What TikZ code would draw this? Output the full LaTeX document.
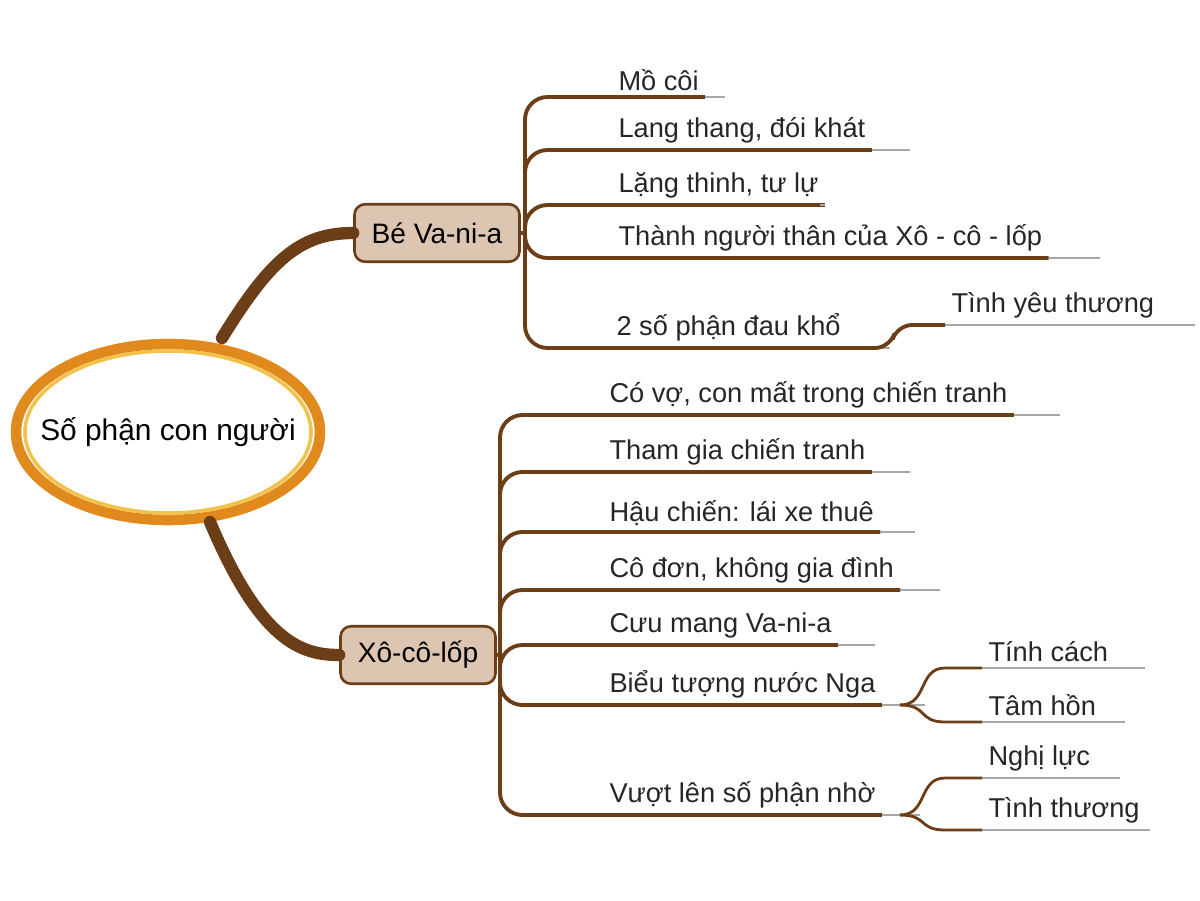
\documentclass[tikz,border=0pt]{standalone}
\usepackage{fontspec}
\setmainfont{Liberation Sans}
\usetikzlibrary{positioning,calc}
\definecolor{bark}{HTML}{6B3E17}
\definecolor{boxfill}{HTML}{DCC6B2}
\definecolor{ring}{HTML}{E08A1E}
\definecolor{ringin}{HTML}{F2C24A}
\tikzset{
  topic/.style={draw=bark,line width=1.5pt,fill=boxfill,rounded corners=6pt,
    minimum width=3.3cm,minimum height=1.15cm,font=\fontsize{16}{19}\selectfont},
  leaf/.style={anchor=south west,inner sep=3.5pt,font=\fontsize{15.5}{18}\selectfont,text=black!85},
  twig/.style={draw=bark,line width=2.2pt,rounded corners=0.45cm},
  tail/.style={draw=gray!70,line width=0.6pt}
}
\begin{document}
\begin{tikzpicture}[x=0.02cm,y=-0.02cm]
  \useasboundingbox (0,0) rectangle (1200,900);

  % central idea
  \fill[white] (168,432) ellipse (155 and 90);
  \draw[ring,line width=6pt] (168,432) ellipse (152 and 88);
  \draw[ringin,line width=2pt] (168,432) ellipse (143 and 81);
  \node[font=\fontsize{17}{20}\selectfont] (core) at (168,432) {Số phận con người};

  % main topics
  \node[topic] (bv) at (437,233) {Bé Va-ni-a};
  \node[topic,minimum width=3.1cm] (xcl) at (418,655) {Xô-cô-lốp};
  \coordinate (k1) at (222,338);
  \coordinate (k2) at (210,522);
  \draw[bark,line width=7pt,line cap=round] (k1) .. controls (270,260) and (300,233) .. (bv.west);
  \draw[bark,line width=7pt,line cap=round] (k2) .. controls (260,640) and (300,655) .. (xcl.west);

  % branches of Be Va-ni-a
  \coordinate (ta) at (525,233);
  \draw[twig] (bv.east) -- (ta);
  \foreach \y/\xa/\xe/\txt/\nm in {97/612/725/Mồ côi/a1,
      150/612/910/{Lang thang, đói khát}/a2,
      205/612/820/{Lặng thinh, tư lự}/a3,
      258/612/1100/Thành người thân của Xô - cô - lốp/a4,
      348/610/890/2 số phận đau khổ/a5}{
    \node[leaf] (\nm) at (\xa,\y) {\txt};
    \coordinate (\nm e) at (\xe,\y);
    \draw[twig] (ta) -- (525,\y) -- (\nm.south east);
    \draw[tail] (\nm.south east) -- (\nm e);
  }
  \node[leaf] (a6) at (945,325) {Tình yêu thương};
  \coordinate (a6e) at (1195,325);
  \draw[twig,rounded corners=0.3cm] (a5.south east) -- (890,348) -- (897,325) -- (a6.south west);
  \draw[tail] (a6.south west) -- (a6e);

  % branches of Xo-co-lop
  \coordinate (tb) at (500,655);
  \draw[twig] (xcl.east) -- (tb);
  \foreach \y/\xe/\txt/\nm in {415/1060/{Có vợ, con mất trong chiến tranh}/b1,
      472/910/Tham gia chiến tranh/b2,
      532/915/Hậu chiến: lái xe thuê/b3,
      590/940/{Cô đơn, không gia đình}/b4,
      645/875/Cưu mang Va-ni-a/b5,
      705/925/Biểu tượng nước Nga/b6,
      815/920/Vượt lên số phận nhờ/b7}{
    \node[leaf] (\nm) at (603,\y) {\txt};
    \coordinate (\nm e) at (\xe,\y);
    \draw[twig] (tb) -- (500,\y) -- (\nm.south east);
    \draw[tail] (\nm.south east) -- (\nm e);
  }
  \coordinate (f6) at (900,705);
  \coordinate (f7) at (900,815);
  \foreach \src/\y/\xe/\txt/\nm in {f6/668/1145/Tính cách/c1,
      f6/722/1125/Tâm hồn/c2,
      f7/778/1120/Nghị lực/c3,
      f7/830/1150/Tình thương/c4}{
    \node[leaf] (\nm) at (982,\y) {\txt};
    \coordinate (\nm e) at (\xe,\y);
    \draw[bark,line width=1.6pt] (\src) .. controls ($(\src)+(28,0)$) and (918,\y) .. (945,\y) -- (\nm.south west);
    \draw[tail] (\nm.south west) -- (\nm e);
  }
\end{tikzpicture}
\end{document}
